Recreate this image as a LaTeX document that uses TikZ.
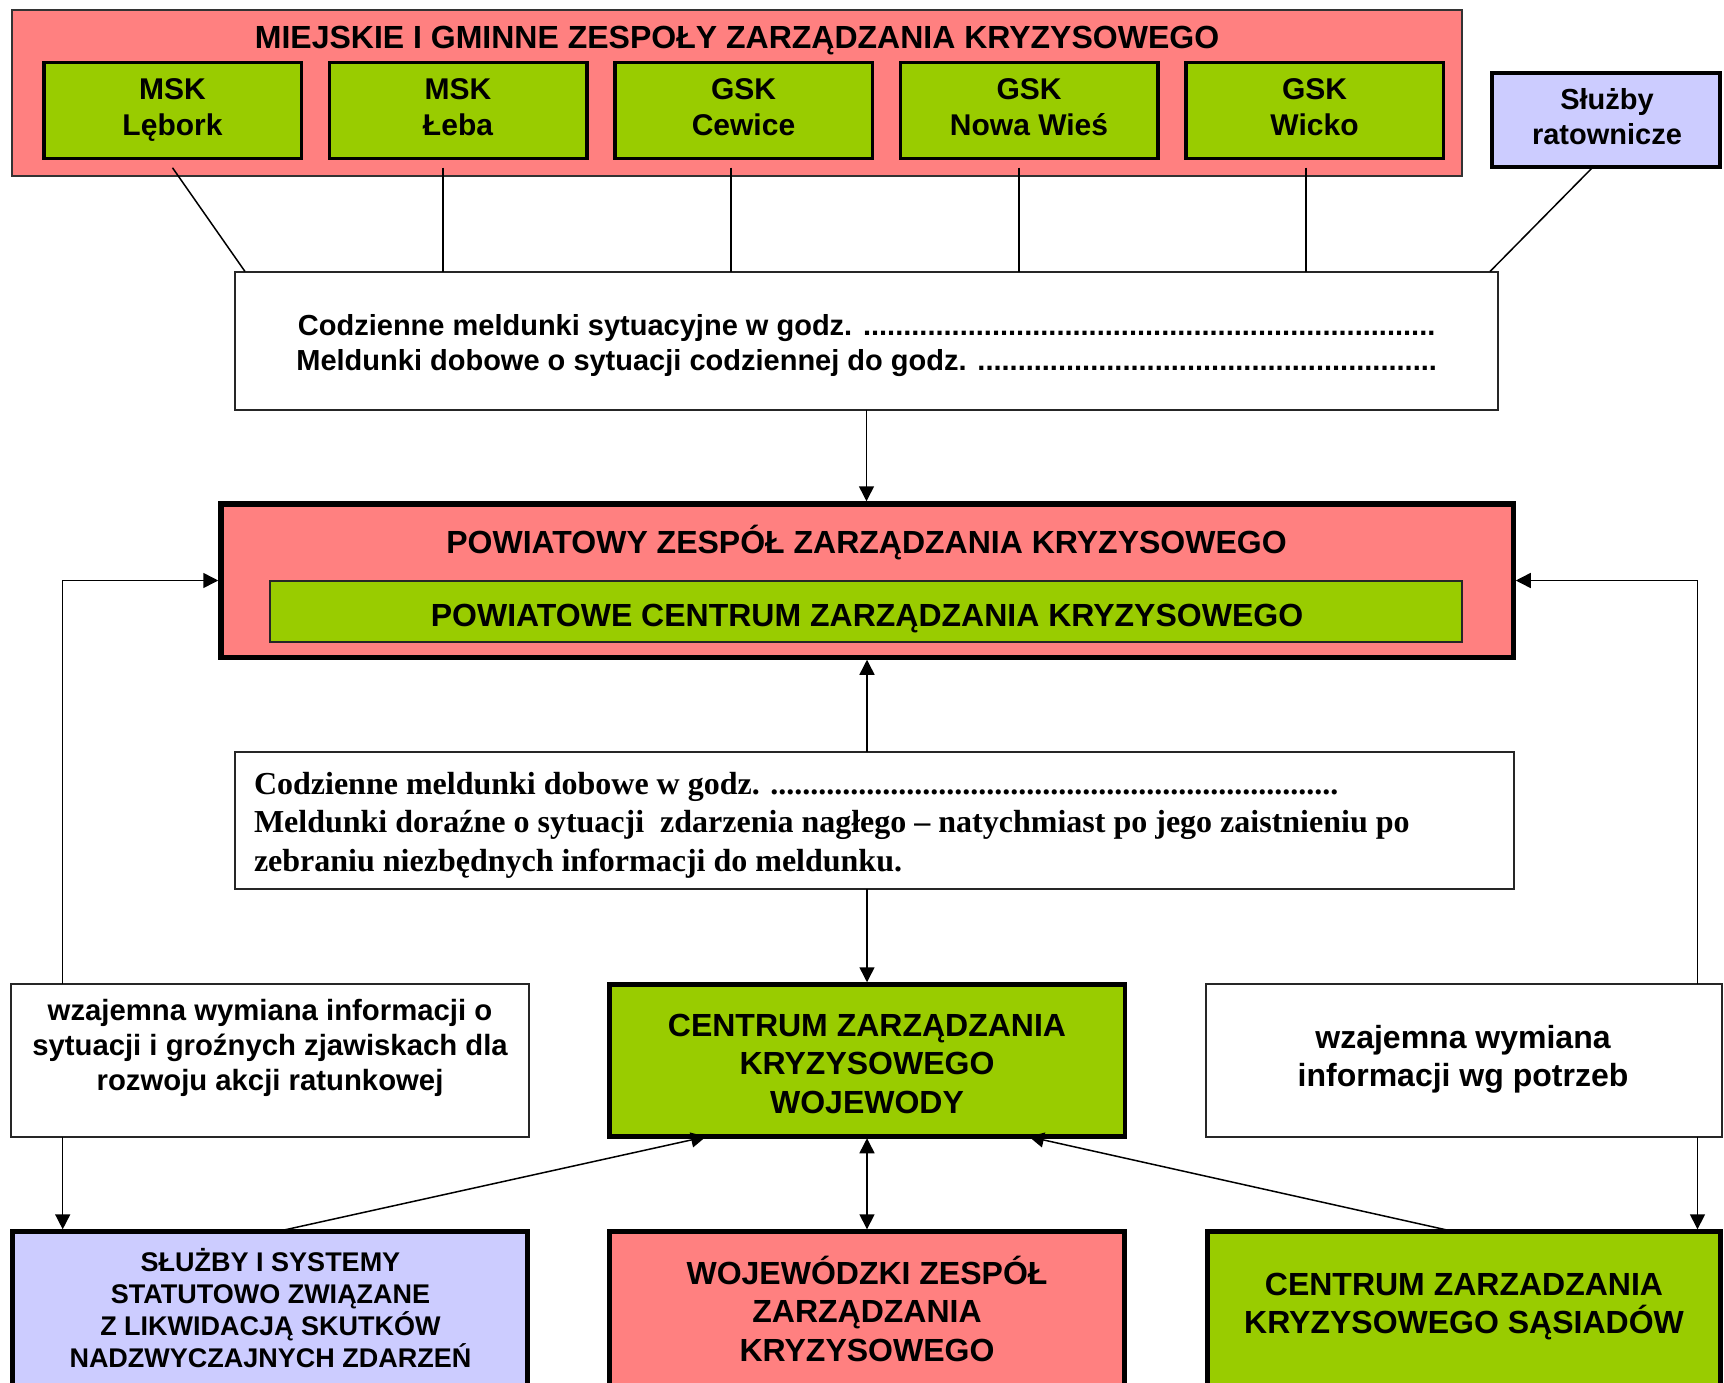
\documentclass[tikz,border=0pt]{standalone}
\usepackage{fontspec}
\setmainfont{Liberation Sans}
\newfontfamily\seriffont{Liberation Serif}
\usetikzlibrary{arrows.meta}
\definecolor{pinkc}{RGB}{255,128,128}
\definecolor{greenc}{RGB}{153,204,0}
\definecolor{lavc}{RGB}{204,204,255}
\newcommand\tstrutx{\rule{0pt}{1.1em}}
\newcommand\dotrow[1]{\foreach\dotidx in {1,...,#1}{.}}
\begin{document}
\begin{tikzpicture}[x=1pt,y=-1pt,
  every node/.style={inner sep=0pt,outer sep=0pt},
  boxnode/.style={draw=black!85,rectangle,inner sep=0pt},
  gbox/.style={boxnode,draw=black,line width=3.5pt,fill=greenc,minimum width=257.5pt,minimum height=96pt},
  txt/.style={anchor=north,align=center},
  fa/.style={font=\bfseries\fontsize{32}{38.5}\selectfont},
  fb/.style={font=\bfseries\fontsize{30}{36}\selectfont},
  fc/.style={font=\bfseries\fontsize{29}{35}\selectfont},
  fcl/.style={font=\bfseries\fontsize{29.3}{35}\selectfont},
  fd/.style={font=\bfseries\fontsize{27}{32}\selectfont},
  fser/.style={font=\seriffont\bfseries\fontsize{32}{38.5}\selectfont},
  conn/.style={line width=1.5pt},
  arr/.style={line width=1.5pt,-{Triangle[length=15pt,width=15pt]}},
  darr/.style={line width=1.5pt,{Triangle[length=15pt,width=15pt]}-{Triangle[length=15pt,width=15pt]}},
]
\useasboundingbox (0,0) rectangle (1724,1383);
\clip (0,0) rectangle (1724,1383);

% top group
\node[boxnode,draw=black!80,line width=2pt,fill=pinkc,minimum width=1450pt,minimum height=166pt] (mz) at (737,93) {};
\node[txt,fa] (mzt) at (737,48.3-35.2) {\tstrutx MIEJSKIE I GMINNE ZESPOŁY ZARZĄDZANIA KRYZYSOWEGO};

\node[gbox] (g1) at (172.5,110.75) {};
\node[gbox] (g2) at (458,110.75) {};
\node[gbox] (g3) at (743.5,110.75) {};
\node[gbox] (g4) at (1029,110.75) {};
\node[gbox] (g5) at (1314.5,110.75) {};
\node[txt,fb] (g1t) at (172.5,99.3-33) {\tstrutx MSK\\Lębork};
\node[txt,fb] (g2t) at (458,99.3-33) {\tstrutx MSK\\Łeba};
\node[txt,fb] (g3t) at (743.5,99.3-33) {\tstrutx GSK\\Cewice};
\node[txt,fb] (g4t) at (1029,99.3-33) {\tstrutx GSK\\Nowa Wieś};
\node[txt,fb] (g5t) at (1314.5,99.3-33) {\tstrutx GSK\\Wicko};

\node[boxnode,draw=black,line width=4pt,fill=lavc,minimum width=228pt,minimum height=94pt] (sr) at (1606,120) {};
\node[txt,fc] (srt) at (1607,110-31.9) {\tstrutx Służby\\ratownicze};

% white box 1
\node[boxnode,line width=2pt,fill=white,minimum width=1263pt,minimum height=138pt] (wb1) at (866.5,340.5) {};
\node[txt,fc] (wb1t) at (866.5,335-31.9) {\tstrutx Codzienne meldunki sytuacyjne w godz. \dotrow{71}\\Meldunki dobowe o sytuacji codziennej do godz. \dotrow{57}};

% powiat
\node[boxnode,draw=black,line width=5.5pt,fill=pinkc,minimum width=1292.5pt,minimum height=153.5pt] (pow) at (867,580.5) {};
\node[txt,fa] (powt) at (866.5,553-35.2) {\tstrutx POWIATOWY ZESPÓŁ ZARZĄDZANIA KRYZYSOWEGO};
\node[boxnode,line width=2pt,fill=greenc,minimum width=1192pt,minimum height=60.7pt] (pcz) at (866,611.35) {};
\node[txt,fa] (pczt) at (867,626.7-35.2) {\tstrutx POWIATOWE CENTRUM ZARZĄDZANIA KRYZYSOWEGO};

% white box 2
\node[boxnode,line width=2pt,fill=white,minimum width=1279pt,minimum height=137.3pt] (wb2) at (874.5,820.35) {};
\node[anchor=north west,align=left,fser] (wb2t) at (254,794-35.2) {\tstrutx Codzienne meldunki dobowe w godz. \dotrow{71}\\Meldunki doraźne o sytuacji\ \ zdarzenia nagłego – natychmiast po jego zaistnieniu po\\zebraniu niezbędnych informacji do meldunku.};

% middle row
\node[boxnode,draw=black,line width=4.5pt,fill=greenc,minimum width=515.5pt,minimum height=152pt] (czk) at (867,1060.25) {};
\node[txt,fa] (czkt) at (867,1036-35.2) {\tstrutx CENTRUM ZARZĄDZANIA\\KRYZYSOWEGO\\WOJEWODY};

\node[boxnode,line width=2pt,fill=white,minimum width=518pt,minimum height=153pt] (lw) at (270,1060.2) {};
\node[txt,fcl] (lwt) at (270,1020-32.2) {\tstrutx wzajemna wymiana informacji o\\sytuacji i groźnych zjawiskach dla\\rozwoju akcji ratunkowej};

\node[boxnode,line width=2pt,fill=white,minimum width=516pt,minimum height=153pt] (rw) at (1464,1060.2) {};
\node[txt,fa] (rwt) at (1463,1048-35.2) {\tstrutx wzajemna wymiana\\informacji wg potrzeb};

% bottom row
\node[boxnode,draw=black,line width=5pt,fill=lavc,minimum width=515pt,minimum height=220pt] (bl) at (270,1341.8) {};
\node[txt,fd] (blt) at (270.5,1271.5-29.7) {\tstrutx SŁUŻBY I SYSTEMY\\STATUTOWO ZWIĄZANE\\Z LIKWIDACJĄ SKUTKÓW\\NADZWYCZAJNYCH ZDARZEŃ};
\node[boxnode,draw=black,line width=5pt,fill=pinkc,minimum width=515pt,minimum height=220pt] (bm) at (867,1341.8) {};
\node[txt,fa] (bmt) at (867,1284-35.2) {\tstrutx WOJEWÓDZKI ZESPÓŁ\\ZARZĄDZANIA\\KRYZYSOWEGO};
\node[boxnode,draw=black,line width=5pt,fill=greenc,minimum width=513pt,minimum height=220pt] (br) at (1464,1341.8) {};
\node[txt,fa] (brt) at (1464,1295-35.2) {\tstrutx CENTRUM ZARZADZANIA\\KRYZYSOWEGO SĄSIADÓW};

% connectors top
\coordinate (c2) at ([xshift=-15pt,yshift=-9pt]g2.south);
\coordinate (c3) at ([xshift=-12.5pt,yshift=-9pt]g3.south);
\coordinate (c4) at ([xshift=-10pt,yshift=-9pt]g4.south);
\coordinate (c5) at ([xshift=-8.5pt,yshift=-9pt]g5.south);
\draw[conn] ([yshift=-9pt]g1.south) -- ([xshift=10pt]wb1.north west);
\foreach \c in {c2,c3,c4,c5} \draw[conn] (\c) -- (\c |- wb1.north);
\draw[conn] ([xshift=-13pt]sr.south) -- ([xshift=-8pt]wb1.north east);

% arrows
\draw[arr,shorten >=2.5pt] (wb1.south) -- (wb1.south |- pow.north);
\draw[arr,shorten >=2.5pt] (wb2.north -| pow.south) -- (pow.south);
\draw[arr,shorten >=2pt] (wb2.south -| czk.north) -- (czk.north);
\coordinate (lxt) at ([xshift=51.7pt]lw.north west);
\coordinate (rxt) at ([xshift=-24.5pt]rw.north east);
\coordinate (lxb) at ([xshift=51.7pt]lw.south west);
\coordinate (rxb) at ([xshift=-24.5pt]rw.south east);
\draw[arr,shorten >=2.5pt] (lxt) |- (pow.west);
\draw[arr,shorten >=2.5pt] (rxt) |- (pow.east);
\draw[arr,shorten >=2.5pt] (lxb) -- (lxb |- bl.north);
\draw[arr,shorten >=2.5pt] (rxb) -- (rxb |- br.north);
\draw[darr,shorten >=2.5pt,shorten <=2pt] (czk.south) -- (bm.north);
\draw[arr,shorten >=2pt] ([xshift=6pt]bl.north) -- ([xshift=-159pt]czk.south);
\draw[arr,shorten >=2pt] ([xshift=-9pt]br.north) -- ([xshift=160pt]czk.south);
\end{tikzpicture}
\end{document}
